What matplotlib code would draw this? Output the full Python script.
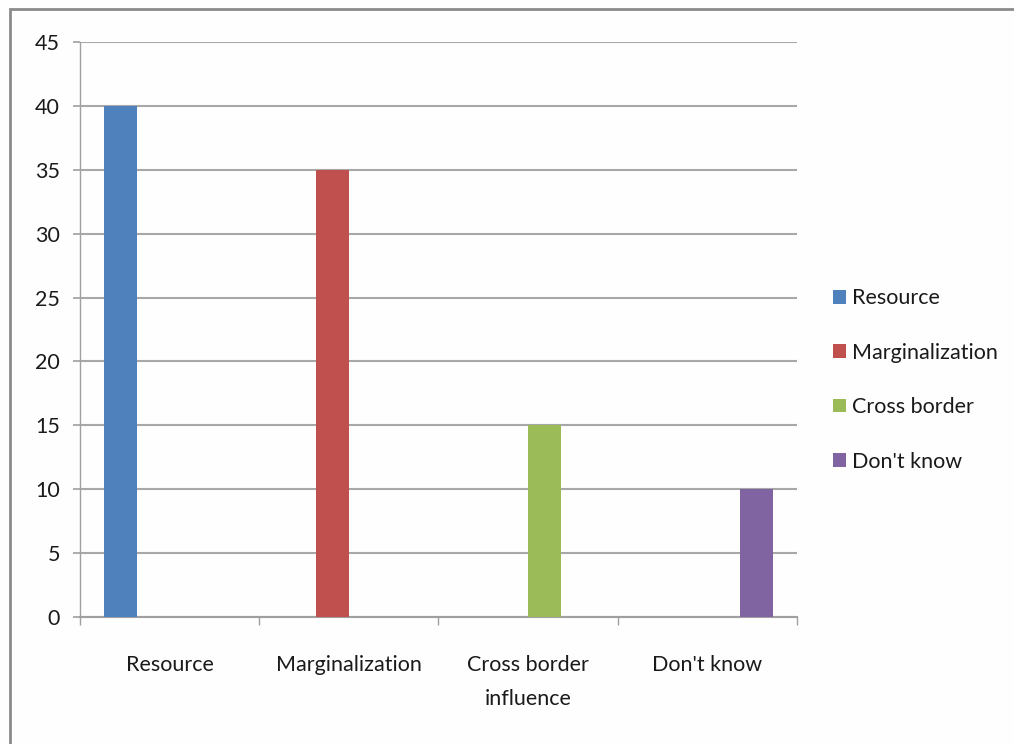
import matplotlib
matplotlib.use("Agg")
import matplotlib.pyplot as plt
from matplotlib.patches import Rectangle
import numpy as np

categories = ["Resource", "Marginalization", "Cross border\ninfluence", "Don't know"]
series_names = ["Resource", "Marginalization", "Cross border", "Don't know"]
series_values = [
    [40, 0, 0, 0],
    [0, 35, 0, 0],
    [0, 0, 15, 0],
    [0, 0, 0, 10],
]
colors = ["#4F81BD", "#C0504D", "#9BBB59", "#8064A2"]
y_ticks = [0, 5, 10, 15, 20, 25, 30, 35, 40, 45]

plt.rcParams["font.family"] = ["Lato", "DejaVu Sans"]
FS = 15.5
TXT = "#1A1A1A"

W, H = 1014, 744
fig = plt.figure(figsize=(W / 100, H / 100), dpi=100)
fig.patch.set_facecolor("#FEFEFE")

# chart frame (extends past right/bottom edges)
fig.patches.append(Rectangle((10 / W, -0.05), 1.1, 1 - 9 / H + 0.05,
                             transform=fig.transFigure, fill=False,
                             edgecolor="#8A8A8A", linewidth=2.0))

ax = fig.add_axes([80 / W, 1 - 617 / H, (797 - 80) / W, (617 - 42) / H])
ax.set_facecolor("none")

n = len(series_names)
w = 1 / 5.5
x = np.arange(len(categories))
for i, (name, vals, c) in enumerate(zip(series_names, series_values, colors)):
    ax.bar(x + (i - (n - 1) / 2) * w, vals, width=w, color=c, label=name,
           linewidth=0, zorder=3)

ax.set_xlim(-0.5, len(categories) - 0.5)
ax.set_ylim(0, 45)
ax.set_yticks(y_ticks)
ax.tick_params(axis="y", length=5, width=1.2, color="#A0A0A0", pad=9.5,
               labelsize=FS, labelcolor=TXT)
ax.yaxis.grid(True, color="#A8A8A8", linewidth=1.5, zorder=0)

ax.set_xticks(np.arange(len(categories) + 1) - 0.5)
ax.set_xticklabels([])
ax.set_xticks(x, minor=True)
ax.set_xticklabels(categories, minor=True, fontsize=FS, color=TXT,
                   linespacing=1.85, va="top")
ax.tick_params(axis="x", which="major", length=6, width=1.0, color="#A0A0A0")
ax.tick_params(axis="x", which="minor", length=0, pad=27.5)

for s in ["top", "right"]:
    ax.spines[s].set_visible(False)
ax.spines["left"].set_color("#A0A0A0")
ax.spines["bottom"].set_color("#A0A0A0")
ax.spines["left"].set_linewidth(1.0)
ax.spines["bottom"].set_linewidth(1.5)

leg = fig.legend(*ax.get_legend_handles_labels(), loc="center left",
                 bbox_to_anchor=(833 / W, 1 - 380 / H),
                 bbox_transform=fig.transFigure, frameon=False,
                 fontsize=FS, handlelength=0.6, handleheight=0.6,
                 handletextpad=0.3, labelspacing=1.6, borderpad=0,
                 borderaxespad=0)
for t in leg.get_texts():
    t.set_color(TXT)

fig.savefig("out.png", dpi=100, facecolor=fig.get_facecolor())
